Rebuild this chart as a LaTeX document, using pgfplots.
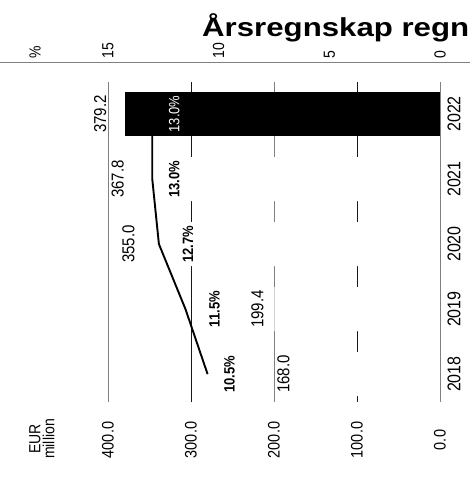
\documentclass[border=0pt]{standalone}
\usepackage{pgfplots}
\pgfplotsset{compat=1.18}
\usepackage{fontspec}
\setmainfont{Liberation Sans}
\usepackage{graphicx}
\newcommand\thk[1]{\scalebox{1}[1.15]{#1}}
\begin{document}
\begin{tikzpicture}
\useasboundingbox (0,0) rectangle (470bp,483bp);
\pgfplotsset{
  base/.style={
    scale only axis, width=332bp, height=320bp,
    at={(440bp,81bp)}, anchor=south east,
    x dir=reverse, ymin=-0.428, ymax=4.492,
    clip=false, axis line style={draw=none}, major tick length=0pt,
    ytick=\empty, xtick=\empty,
    /pgf/number format/assume math mode=true,
    tick label style={font=\fontsize{14.5bp}{16bp}\selectfont},
  },
}
% EUR grid and white bars
\begin{axis}[base, xmin=0, xmax=400,
  xtick={0,200,400},
  extra x ticks={100,300},
  extra x tick style={grid style={black!90, line width=1bp}},
  xmajorgrids, grid style={black!50, line width=1bp},
  xticklabel={\thk{\pgfmathprintnumber[fixed,fixed zerofill,precision=1]{\tick}}},
  xticklabel style={rotate=90, anchor=center},
  xticklabel shift=38bp,
]
\addplot[xbar, bar width=44bp, fill=white, draw=none, forget plot]
  coordinates {(168.0,0) (199.4,1) (355.0,2) (367.8,3)};
\end{axis}
% margin line (%)
\begin{axis}[base, xmin=0, xmax=15]
\addplot[black, line width=1.9bp, mark=none]
  coordinates {(10.5,0) (11.5,1) (12.7,2) (13.0,3) (13.0,4)};
\end{axis}
% 2022 bar, value labels, years
\begin{axis}[base, xmin=0, xmax=400,
  ytick={0,1,2,3,4}, yticklabels={\thk{2018},\thk{2019},\thk{2020},\thk{2021},\thk{2022}},
  yticklabel pos=right,
  yticklabel style={rotate=90, anchor=center, font=\fontsize{16bp}{17bp}\selectfont},
  yticklabel shift=14bp,
]
\addplot[xbar, bar width=44bp, fill=black, draw=none]
  coordinates {(379.2,4)};
\draw[black!50, line width=1bp] (axis cs:0,-0.428) -- (axis cs:0,4.492);
\addplot[draw=none, mark=none, point meta=x,
  nodes near coords={\thk{\pgfmathprintnumber[fixed,fixed zerofill,precision=1]{\pgfplotspointmeta}}},
  every node near coord/.style={anchor=center, xshift=-17bp, rotate=90, font=\fontsize{15bp}{16bp}\selectfont}]
  coordinates {(168.0,0) (199.4,1) (355.0,2) (367.8,3)};
\addplot[draw=none, mark=none, point meta=x,
  nodes near coords={\thk{\pgfmathprintnumber[fixed,fixed zerofill,precision=1]{\pgfplotspointmeta}}},
  every node near coord/.style={anchor=center, xshift=-25bp, rotate=90, font=\fontsize{15bp}{16bp}\selectfont}]
  coordinates {(379.2,4)};
\end{axis}
% percent axis and labels
\begin{axis}[base, xmin=0, xmax=15,
  xtick={0,5,10,15}, xticklabel pos=right,
  xticklabel={\thk{\pgfmathprintnumber{\tick}}},
  xticklabel style={rotate=90, anchor=west, font=\fontsize{14bp}{15bp}\selectfont},
  xticklabel shift=20bp,
]
\addplot[draw=none, mark=none, point meta=x,
  nodes near coords={\thk{\pgfmathprintnumber[fixed,fixed zerofill,precision=1]{\pgfplotspointmeta}\%}},
  every node near coord/.style={anchor=center, xshift=22bp, rotate=90, font=\bfseries\fontsize{13bp}{14bp}\selectfont}]
  coordinates {(10.5,0) (13.0,3)};
\addplot[draw=none, mark=none, point meta=x,
  nodes near coords={\thk{\pgfmathprintnumber[fixed,fixed zerofill,precision=1]{\pgfplotspointmeta}\%}},
  every node near coord/.style={anchor=center, xshift=29bp, rotate=90, font=\bfseries\fontsize{13bp}{14bp}\selectfont}]
  coordinates {(11.5,1) (12.7,2)};
\addplot[draw=none, mark=none, point meta=x,
  nodes near coords={\thk{\pgfmathprintnumber[fixed,fixed zerofill,precision=1]{\pgfplotspointmeta}\%}},
  every node near coord/.style={anchor=center, xshift=22bp, rotate=90, text=white, font=\fontsize{13bp}{14bp}\selectfont}]
  coordinates {(13.0,4)};
\end{axis}
\draw[black!50, line width=1bp] (0,420bp) -- (470bp,420bp);
\node[rotate=90, anchor=west, font=\fontsize{14bp}{15bp}\selectfont] at (35bp,421bp) {\thk{\%}};
\node[rotate=90, align=center, font=\fontsize{14bp}{14bp}\selectfont] at (42bp,44bp) {\thk{EUR}\\\thk{million}};
\node[anchor=base west, inner sep=0pt, font=\bfseries\fontsize{26bp}{26bp}\selectfont] at (202bp,446bp) {\scalebox{1.2}[1]{Årsregnskap regn}};
\end{tikzpicture}
\end{document}
